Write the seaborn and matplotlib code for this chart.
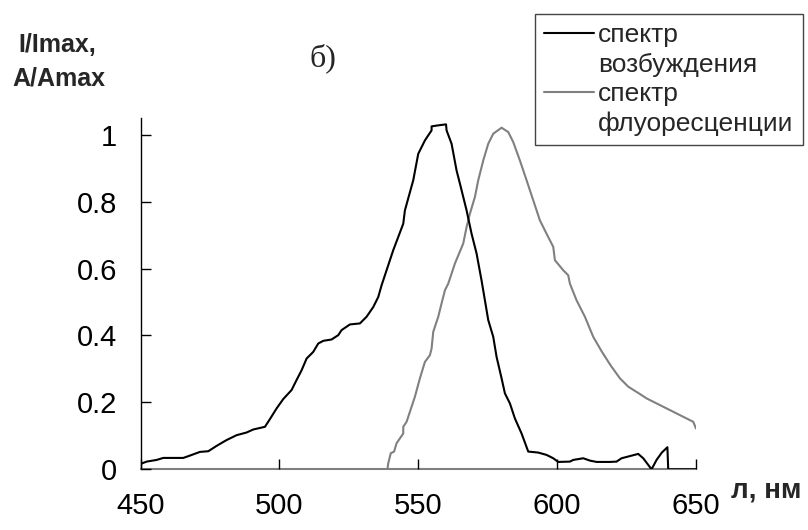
import matplotlib
matplotlib.use("Agg")
import matplotlib.pyplot as plt
from matplotlib.lines import Line2D
import seaborn as sns
import pandas as pd

# Excitation spectrum (black)
exc_wl = [450.0, 452.2, 455.8, 458.2, 465.4, 467.8, 471.4, 474.4, 477.4, 480.9,
          484.6, 488.2, 490.6, 494.8, 496.6, 499.0, 501.4, 504.4, 506.2, 508.0,
          509.8, 512.2, 514.0, 515.8, 518.8, 521.2, 522.4, 525.4, 529.0, 531.4,
          533.8, 535.6, 536.8, 538.8, 541.0, 544.6, 545.2, 548.2, 550.0, 552.4,
          554.8, 554.8, 557.2, 560.0, 560.2, 562.0, 563.8, 565.0, 567.4, 569.2,
          571.0, 572.8, 574.0, 575.2, 577.0, 578.2, 580.0, 581.2, 583.0, 584.8,
          587.2, 589.6, 593.2, 596.2, 598.6, 600.4, 604.6, 605.8, 609.4, 611.8,
          614.2, 619.0, 621.4, 623.2, 629.2, 631.0, 634.0, 635.8, 637.7, 639.7,
          640.0, 650.0]
exc_val = [0.016, 0.023, 0.028, 0.034, 0.034, 0.041, 0.052, 0.054, 0.070, 0.087,
           0.102, 0.110, 0.119, 0.127, 0.150, 0.182, 0.210, 0.237, 0.267, 0.296,
           0.331, 0.351, 0.376, 0.384, 0.388, 0.401, 0.416, 0.433, 0.436, 0.456,
           0.485, 0.515, 0.550, 0.600, 0.655, 0.734, 0.774, 0.864, 0.943, 0.983,
           1.013, 1.025, 1.028, 1.031, 1.013, 0.973, 0.893, 0.854, 0.774, 0.704,
           0.645, 0.564, 0.505, 0.446, 0.396, 0.336, 0.272, 0.227, 0.197, 0.152,
           0.107, 0.053, 0.050, 0.043, 0.033, 0.022, 0.023, 0.028, 0.033, 0.026,
           0.022, 0.022, 0.023, 0.033, 0.046, 0.033, 0.000, 0.028, 0.050, 0.066,
           0.000, 0.000]

# Fluorescence spectrum (gray)
fl_wl = [538.9, 539.2, 540.1, 541.3, 542.2, 544.6, 544.6, 545.8, 547.6, 548.8,
         550.6, 552.4, 554.2, 554.8, 555.4, 557.2, 558.4, 559.6, 560.8, 563.2,
         566.2, 567.4, 568.6, 570.4, 571.6, 573.4, 575.2, 577.0, 580.0, 582.4,
         584.2, 586.6, 589.0, 591.4, 593.8, 596.2, 598.6, 599.2, 602.2, 604.0,
         604.6, 607.0, 610.0, 613.0, 616.0, 619.3, 622.6, 625.6, 629.8, 632.2,
         637.0, 641.8, 646.6, 649.0, 650.0]
fl_val = [0.000, 0.018, 0.048, 0.053, 0.078, 0.107, 0.127, 0.142, 0.187, 0.217,
          0.272, 0.321, 0.341, 0.361, 0.411, 0.456, 0.496, 0.535, 0.555, 0.615,
          0.675, 0.724, 0.764, 0.814, 0.864, 0.923, 0.973, 1.003, 1.021, 1.008,
          0.978, 0.923, 0.864, 0.804, 0.744, 0.704, 0.665, 0.625, 0.595, 0.580,
          0.555, 0.505, 0.456, 0.396, 0.353, 0.310, 0.272, 0.247, 0.225, 0.212,
          0.192, 0.172, 0.152, 0.142, 0.122]

x_ticks = [450, 500, 550, 600, 650]
y_ticks = [0, 0.2, 0.4, 0.6, 0.8, 1]
y_tick_labels = ["0", "0.2", "0.4", "0.6", "0.8", "1"]
legend_labels = ["спектр", "возбуждения", "спектр", "флуоресценции"]

sns.set_theme(style="white")
plt.rcParams["font.family"] = ["Liberation Sans", "DejaVu Sans"]

exc_df = pd.DataFrame({"wl": exc_wl, "val": exc_val})
fl_df = pd.DataFrame({"wl": fl_wl, "val": fl_val})

fig = plt.figure(figsize=(8.08, 5.30), dpi=100)
ax = fig.add_axes([140.5 / 808, (530 - 469.3) / 530, (696 - 140.5) / 808, (469.3 - 118) / 530])

sns.lineplot(data=fl_df, x="wl", y="val", ax=ax, color="#808080", lw=1.5,
             sort=False, estimator=None)
sns.lineplot(data=exc_df, x="wl", y="val", ax=ax, color="black", lw=1.5,
             sort=False, estimator=None)

ax.set_xlim(450, 650)
ax.set_ylim(0, 1.05)
ax.set_xticks(x_ticks)
ax.set_xticklabels([str(t) for t in x_ticks])
ax.set_yticks(y_ticks)
ax.set_yticklabels(y_tick_labels)
ax.set_xlabel("")
ax.set_ylabel("")

for s in ["top", "right"]:
    ax.spines[s].set_visible(False)
ax.spines["left"].set_color("black")
ax.spines["left"].set_linewidth(1.0)
ax.spines["bottom"].set_color("#808080")
ax.spines["bottom"].set_linewidth(1.5)
ax.spines["left"].set_zorder(0.5)
ax.spines["bottom"].set_zorder(0.5)

ax.tick_params(axis="both", direction="in", length=7, width=1.0, color="black",
               labelsize=21, labelcolor="black")
ax.tick_params(axis="x", pad=16, bottom=True)
ax.tick_params(axis="y", pad=17, left=True)

# Labels
fig.text(18 / 808, 1 - 45 / 530, "I/Imax,", fontsize=18, fontweight="bold",
         ha="left", va="center")
fig.text(12 / 808, 1 - 78 / 530, "A/Amax", fontsize=18, fontweight="bold",
         ha="left", va="center")
fig.text(323 / 808, 1 - 58 / 530, "б)", fontsize=23, family="Liberation Serif",
         ha="center", va="center")
fig.text(766 / 808, 1 - 490 / 530, "л, нм", fontsize=20, fontweight="bold",
         ha="center", va="center")

handles = [Line2D([], [], color="black", lw=1.5),
           Line2D([], [], color="none", lw=0),
           Line2D([], [], color="#808080", lw=1.5),
           Line2D([], [], color="none", lw=0)]
leg = fig.legend(handles, legend_labels, loc="upper left",
                 bbox_to_anchor=(535 / 808, 1 - 14 / 530),
                 fontsize=19, frameon=True, fancybox=False, framealpha=1,
                 edgecolor="#444444", handlelength=1.9, handletextpad=0.15,
                 labelspacing=0.2, borderpad=0.35, borderaxespad=0)
leg.get_frame().set_linewidth(1.0)

fig.savefig("out.png", dpi=100)
